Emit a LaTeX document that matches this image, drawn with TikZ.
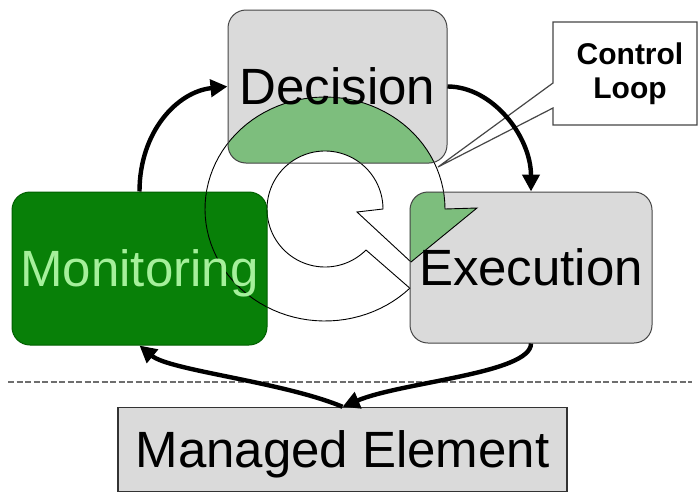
\documentclass[tikz,border=0pt]{standalone}
\usepackage{fontspec}
\setmainfont{Liberation Sans}
\usetikzlibrary{arrows.meta}
\definecolor{boxgray}{RGB}{218,218,218}
\definecolor{boxedge}{RGB}{70,70,70}
\definecolor{mongreen}{RGB}{8,128,8}
\definecolor{monedge}{RGB}{0,95,0}
\definecolor{montext}{RGB}{165,240,155}
\definecolor{ringgreen}{RGB}{125,190,125}
\definecolor{dashgray}{RGB}{110,110,110}
\begin{document}
\begin{tikzpicture}[x=1pt,y=-1pt,
  bigfont/.style={font=\fontsize{51}{60}\selectfont},
  boxbg/.style={rectangle, rounded corners=18pt, inner sep=0pt, fill=boxgray},
  boxfront/.style={rectangle, rounded corners=18pt, inner sep=0pt, draw=boxedge, line width=1pt, bigfont, text height=36pt, text depth=0pt},
  flow/.style={line width=4.4pt, -{Triangle[length=17pt,width=17pt]}},
  ringline/.style={draw=black, line width=0.9pt},
]
\fill[white] (0,0) rectangle (699,493);
\useasboundingbox (0,0) rectangle (699,493);

% dashed separator
\coordinate (dashL) at (8,382);
\coordinate (dashR) at (692,382);
\draw[dashgray, line width=1.3pt, dash pattern=on 6pt off 2.5pt] (dashL) -- (dashR);

% box backgrounds
\node[boxbg, minimum width=219pt, minimum height=153pt] (decbg) at (337.5,86.5) {};
\node[boxbg, minimum width=242pt, minimum height=151pt] (exebg) at (531,267.5) {};
\node[boxbg, fill=mongreen, minimum width=255pt, minimum height=153pt] (monbg) at (139.5,268.5) {};

% circular arrow
\def\ringpath{(366,250) -- plot[domain=45:360,samples=90] ({325+58*cos(\x)},{209+58*sin(\x)}) -- (357,212) -- (411,262) -- (477,208) -- plot[domain=360:45,samples=90] ({325+120*cos(\x)},{209+112*sin(\x)}) -- cycle}
\begin{scope}
  \clip[rounded corners=18pt] (decbg.south west) rectangle (decbg.north east);
  \fill[ringgreen] \ringpath;
  \fill[white] (325,209) circle[radius=58pt];
\end{scope}
\begin{scope}
  \clip[rounded corners=18pt] (exebg.south west) rectangle (exebg.north east);
  \fill[ringgreen] \ringpath;
\end{scope}
\draw[ringline] \ringpath;

% box fronts with labels
\node[boxfront, minimum width=219pt, minimum height=153pt] (dec) at (decbg) {Decision};
\node[boxfront, minimum width=242pt, minimum height=151pt] (exe) at (exebg) {Execution};
\node[boxfront, draw=monedge, text=montext, minimum width=255pt, minimum height=153pt] (mon) at (monbg) {Monitoring};

% managed element
\node[rectangle, fill=boxgray, draw=black!80, line width=1.5pt, inner sep=0pt,
      minimum width=449pt, minimum height=84pt, bigfont, text height=36pt, text depth=0pt]
      (me) at (342.5,449.5) {Managed Element};

% callout
\coordinate (clTip) at (438,167);
\draw[fill=white, draw=boxedge, line width=1.2pt] (553,22) -- (697,22) -- (697,125) -- (553,125) -- (553,108) -- (clTip) -- (553,83) -- cycle;
\node[font=\bfseries\fontsize{30}{34}\selectfont, align=center, inner sep=0pt] (cl) at (630,74) {Control\\Loop};

% flow arrows
\draw[flow] (mon.north) .. controls +(0,-60) and +(-50,5) .. (dec.west);
\draw[flow] (dec.east) .. controls +(45,0) and +(0,-55) .. (exe.north);
\draw[flow] (exe.south) .. controls +(0,30) and +(60,-25) .. (me.north);
\draw[flow] (me.north) .. controls +(-60,-25) and +(30,25) .. (mon.south);
\end{tikzpicture}
\end{document}
